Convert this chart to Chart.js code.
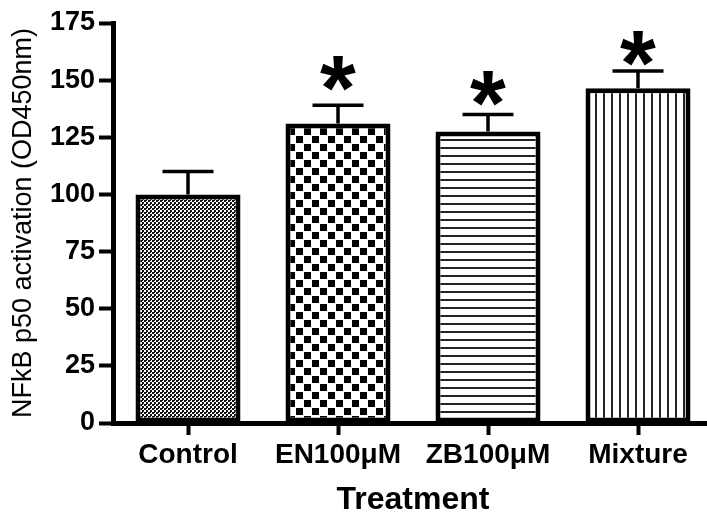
<!DOCTYPE html>
<html><head><meta charset="utf-8">
<script src="https://cdn.jsdelivr.net/npm/chart.js@4.4.0/dist/chart.umd.min.js"></script>
<style>
html,body{margin:0;padding:0;background:#fff;overflow:hidden}
#wrap{width:707px;height:519px;overflow:hidden;position:relative;background:#fff}
canvas{display:block}
</style>
</head><body>
<div id="wrap"><canvas id="c" width="713" height="519"></canvas></div>
<script>
// ---- data ----
const categories = ['Control', 'EN100\u03bcM', 'ZB100\u03bcM', 'Mixture'];
const meanValues = [100, 131, 127.5, 146.5];
const errorValues = [10, 8, 7.5, 7.5];
const significance = ['', '*', '*', '*'];
const markLevels = [null, 153, 146.5, 164];
const yAxisMin = 0;
const yAxisMax = 175;
const yAxisStep = 25;
const yTitle = 'NFkB p50 activation (OD450nm)';
const xTitle = 'Treatment';

// ---- styling ----
const FONT = '"Liberation Sans", Arial, sans-serif';
const canvas = document.getElementById('c');
const ctx = canvas.getContext('2d');

function makePattern(w, h, draw) {
  const c = document.createElement('canvas');
  c.width = w; c.height = h;
  const g = c.getContext('2d');
  g.fillStyle = '#fff'; g.fillRect(0, 0, w, h);
  g.fillStyle = '#111';
  draw(g);
  return ctx.createPattern(c, 'repeat');
}
const patterns = [
  makePattern(4, 4, g => { g.fillRect(0, 0, 2, 2); g.fillRect(2, 2, 2, 2); g.fillRect(2, 0, 1, 1); }),
  makePattern(16, 16, g => { g.fillStyle = '#000'; g.fillRect(0, 0, 7, 7); g.fillRect(8, 8, 7, 7); }),
  makePattern(8, 8, g => { g.fillStyle = '#222'; g.fillRect(0, 3, 8, 2); }),
  makePattern(8, 8, g => { g.fillStyle = '#222'; g.fillRect(3, 0, 2, 8); })
];

const errorBarPlugin = {
  id: 'errorBars',
  afterDatasetsDraw(chart) {
    const meta = chart.getDatasetMeta(0);
    const y = chart.scales.y;
    const c = chart.ctx;
    c.save();
    c.strokeStyle = '#000';
    c.lineWidth = 3.5;
    meta.data.forEach((bar, i) => {
      const x = bar.x;
      const top = y.getPixelForValue(meanValues[i] + errorValues[i]);
      const base = y.getPixelForValue(meanValues[i]);
      c.beginPath();
      c.moveTo(x, base);
      c.lineTo(x, top);
      c.moveTo(x - 25.5, top);
      c.lineTo(x + 25.5, top);
      c.stroke();
      if (significance[i]) {
        const fs = 92;
        c.font = 'bold ' + fs + 'px ' + FONT;
        c.textAlign = 'left';
        c.textBaseline = 'alphabetic';
        c.fillStyle = '#000';
        const m = c.measureText(significance[i]);
        const cy = y.getPixelForValue(markLevels[i]);
        const dx = x - (m.actualBoundingBoxRight - m.actualBoundingBoxLeft) / 2;
        const dy = cy + (m.actualBoundingBoxAscent - m.actualBoundingBoxDescent) / 2;
        c.fillText(significance[i], dx, dy);
      }
    });
    c.restore();
  }
};

new Chart(ctx, {
  type: 'bar',
  data: {
    labels: categories,
    datasets: [{
      data: meanValues,
      backgroundColor: patterns,
      borderColor: '#000',
      borderWidth: 5,
      borderSkipped: false,
      barPercentage: 0.7,
      categoryPercentage: 1.0
    }]
  },
  options: {
    responsive: false,
    animation: false,
    devicePixelRatio: 1,
    layout: { padding: { top: 23, right: 0, left: 0, bottom: 0 } },
    plugins: { legend: { display: false }, tooltip: { enabled: false } },
    scales: {
      x: {
        type: 'category',
        offset: true,
        afterFit(s) { s.height = 96; },
        grid: { offset: false, drawOnChartArea: false, drawTicks: true, tickLength: 12, tickWidth: 4, tickColor: '#000' },
        border: { display: true, width: 5, color: '#000' },
        ticks: { color: '#000', font: { family: FONT, size: 28, weight: 'bold' }, padding: 3, maxRotation: 0 },
        title: { display: true, text: xTitle, color: '#000', font: { family: FONT, size: 32, weight: 'bold', lineHeight: 1.2 }, padding: { top: 0, bottom: 0 } }
      },
      y: {
        min: yAxisMin, max: yAxisMax,
        afterFit(s) { s.width = 113; },
        grid: { drawOnChartArea: false, drawTicks: true, tickLength: 14, tickWidth: 4, tickColor: '#000' },
        border: { display: true, width: 5, color: '#000' },
        ticks: { stepSize: yAxisStep, color: '#000', font: { family: FONT, size: 27, weight: 'bold' }, padding: 4 },
        title: { display: true, text: yTitle, color: '#000', font: { family: FONT, size: 27, weight: 'normal', lineHeight: 1.2 }, padding: { top: 7, bottom: 0 } }
      }
    }
  },
  plugins: [errorBarPlugin]
});
</script>
</body></html>
